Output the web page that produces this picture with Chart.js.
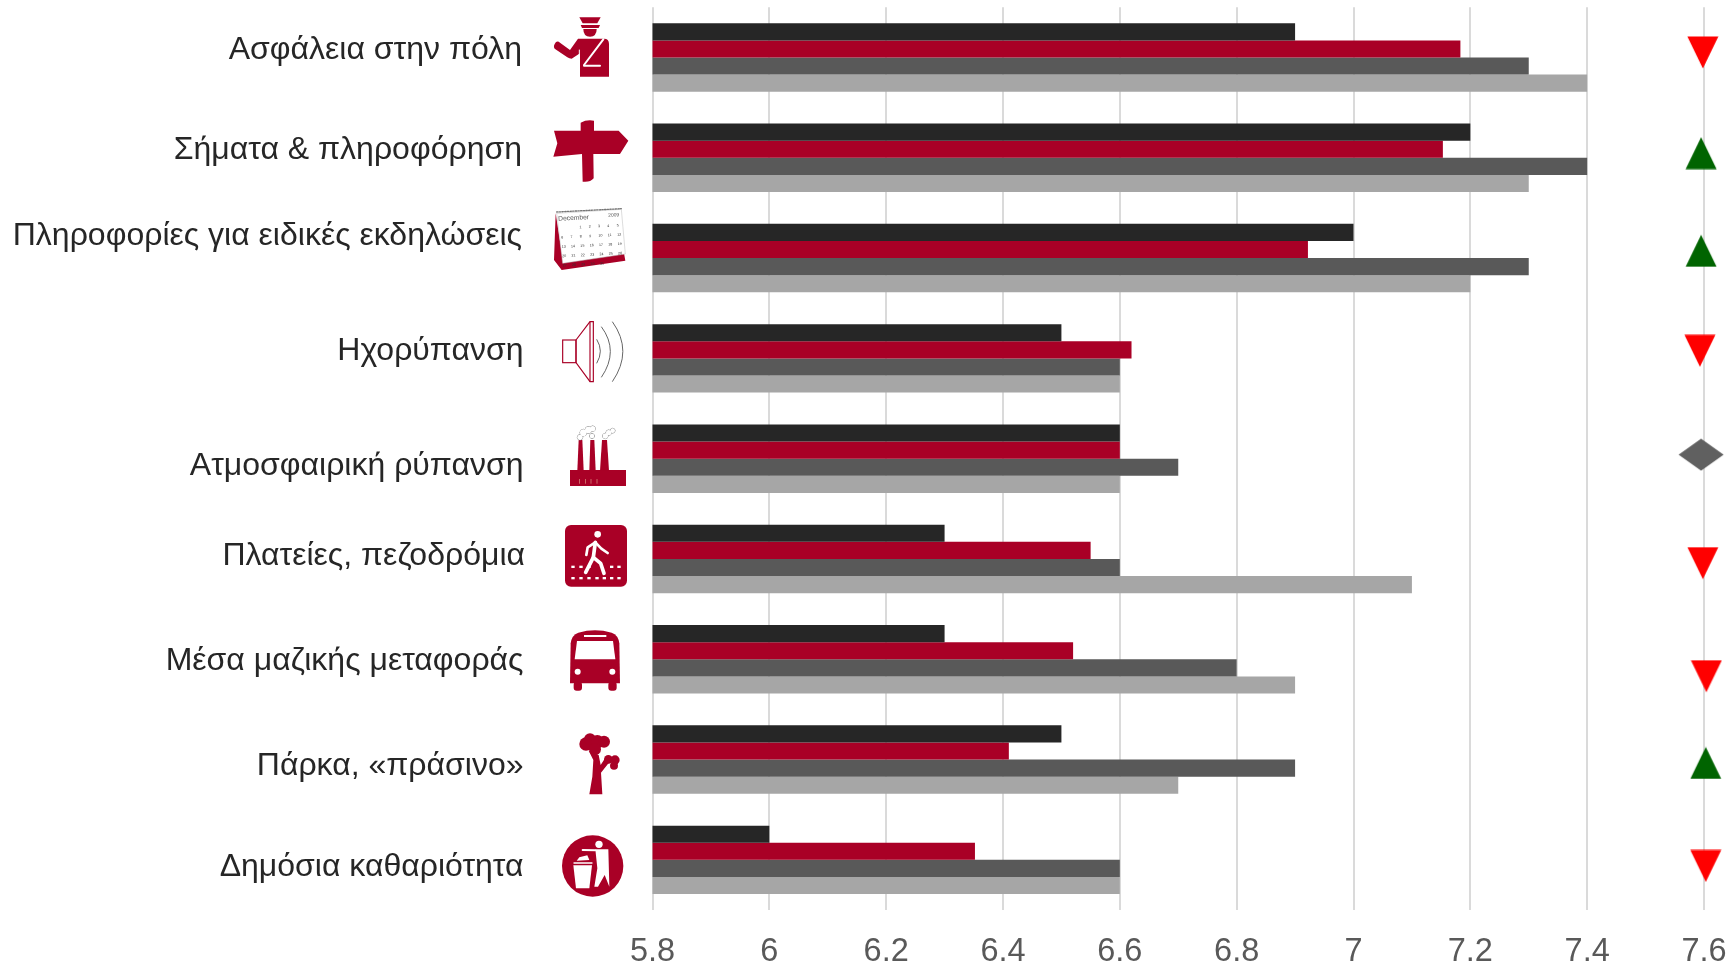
<!DOCTYPE html>
<html lang="el">
<head>
<meta charset="utf-8">
<title>Chart</title>
<style>html,body{margin:0;padding:0;background:#fff}canvas{display:block}</style>
<script src="https://cdn.jsdelivr.net/npm/chart.js@4"></script>
</head>
<body>
<canvas id="c" width="1730" height="964"></canvas>
<script>
const categories = ['Ασφάλεια στην πόλη','Σήματα & πληροφόρηση','Πληροφορίες για ειδικές εκδηλώσεις','Ηχορύπανση','Ατμοσφαιρική ρύπανση','Πλατείες, πεζοδρόμια','Μέσα μαζικής μεταφοράς','Πάρκα, «πράσινο»','Δημόσια καθαριότητα'];
const seriesBlack = [6.9,7.2,7.0,6.5,6.6,6.3,6.3,6.5,6.0];
const seriesRed   = [7.183,7.153,6.922,6.62,6.6,6.55,6.52,6.41,6.352];
const seriesDark  = [7.3,7.4,7.3,6.6,6.7,6.6,6.8,6.9,6.6];
const seriesLight = [7.4,7.3,7.2,6.6,6.6,7.1,6.9,6.7,6.6];
const xTickLabels = ['5.8','6','6.2','6.4','6.6','6.8','7','7.2','7.4','7.6'];
const trendKinds = ['down','up','up','down','same','down','down','up','down'];
const trendX = [7.598,7.595,7.595,7.593,7.595,7.598,7.604,7.603,7.603];
const trendY = [-0.05,0.954,1.927,2.924,3.96,5.042,6.169,7.034,8.061];
const labelShiftY = [-7,-8,-22,-7,7,-3,2,7,7];
const labelShiftX = [0,0,0,1.5,1.5,3,1.5,1.5,1.5];

const CRIMSON = '#A90026';

function markerCanvas(kind){
  const w = kind==='same'?46:32, h = 33;
  const m = document.createElement('canvas'); m.width=w; m.height=h;
  const g = m.getContext('2d');
  g.beginPath();
  if(kind==='down'){g.moveTo(.5,.5);g.lineTo(w-.5,.5);g.lineTo(w/2,h-.5);g.fillStyle='#FF0000';}
  else if(kind==='up'){g.moveTo(w/2,.5);g.lineTo(w-.5,h-.5);g.lineTo(.5,h-.5);g.fillStyle='#006400';}
  else {g.moveTo(.5,h/2);g.lineTo(w/2,.5);g.lineTo(w-.5,h/2);g.lineTo(w/2,h-.5);g.fillStyle='#606060';}
  g.closePath(); g.fill();
  return m;
}
const markerImages = {down:markerCanvas('down'),up:markerCanvas('up'),same:markerCanvas('same')};

function poly(c,pts,fill){c.beginPath();pts.forEach((p,i)=>i?c.lineTo(p[0],p[1]):c.moveTo(p[0],p[1]));c.closePath();if(fill){c.fillStyle=fill;c.fill();}}
function circ(c,x,y,r,fill){c.beginPath();c.arc(x,y,r,0,Math.PI*2);c.fillStyle=fill;c.fill();}
function seg(c,pts,color,w){c.beginPath();pts.forEach((p,i)=>i?c.lineTo(p[0],p[1]):c.moveTo(p[0],p[1]));c.strokeStyle=color;c.lineWidth=w;c.lineCap='round';c.lineJoin='round';c.stroke();}

function iconGuard(c){
  poly(c,[[118,52],[182,52],[172,70],[128,70]],CRIMSON);
  poly(c,[[122,75],[180,75],[176,84],[126,84]],CRIMSON);
  c.beginPath();c.moveTo(130,87);c.lineTo(170,87);c.quadraticCurveTo(170,110,150,110);c.quadraticCurveTo(130,110,130,87);c.fillStyle=CRIMSON;c.fill();
  c.beginPath();c.moveTo(114,116);c.lineTo(192,116);c.quadraticCurveTo(207,116,207,132);c.lineTo(207,230);c.lineTo(120,230);c.lineTo(120,160);c.lineTo(95,176);c.quadraticCurveTo(88,176,82,172);c.lineTo(44,146);c.quadraticCurveTo(38,138,48,126);c.quadraticCurveTo(54,122,60,128);c.lineTo(90,150);c.closePath();c.fillStyle=CRIMSON;c.fill();
  seg(c,[[190,118],[132,195]],'#fff',6);
  seg(c,[[132,197],[180,197]],'#fff',6);
  seg(c,[[118,150],[118,190]],'#fff',3);
}
function iconSign(c){
  c.beginPath();c.moveTo(42,392);c.lineTo(122,392);c.lineTo(122,368);c.quadraticCurveTo(140,358,162,362);c.lineTo(162,392);c.lineTo(236,392);c.lineTo(265,422);c.lineTo(240,462);c.lineTo(160,462);c.lineTo(161,535);c.quadraticCurveTo(150,548,128,545);c.lineTo(126,462);c.lineTo(40,470);c.lineTo(52,430);c.closePath();c.fillStyle=CRIMSON;c.fill();
}
function iconCalendar(c){
  poly(c,[[47,640],[42,780],[65,810],[256,782],[252,760],[70,788]],CRIMSON);
  poly(c,[[50,640],[244,628],[256,762],[68,790]],'#fff');
  c.strokeStyle='#bbb';c.lineWidth=1.5;c.stroke();
  c.setLineDash([4,4]);seg(c,[[50,636],[244,626]],'#777',4);c.setLineDash([]);
  c.save();c.translate(55,662);c.rotate(-0.05);c.lineCap='butt';
  c.fillStyle='#555';c.textBaseline='alphabetic';
  c.font='20px "Liberation Sans"';c.fillText('December',0,0);
  c.font='15px "Liberation Sans"';c.fillText('2009',150,-4);
  const days=[['','','1','2','3','4','5'],['6','7','8','9','10','11','12'],['13','14','15','16','17','18','19'],['20','21','22','23','24','25','26'],['27','28','29','30','31','','']];
  c.font='11px "Liberation Sans"';c.fillStyle='#333';
  days.forEach((r,i)=>r.forEach((d,j)=>{if(d)c.fillText(d,6+j*28,26+i*28);}));
  c.restore();
}
function iconSpeaker(c){
  c.strokeStyle=CRIMSON;c.lineWidth=3.5;c.lineJoin='miter';
  c.strokeRect(68,120,40,68);
  poly(c,[[108,120],[150,65],[160,65],[160,245],[150,245],[108,188]]);c.stroke();
  c.beginPath();c.moveTo(150,65);c.lineTo(150,245);c.stroke();
  c.strokeStyle='#666';c.lineWidth=3;
  c.beginPath();c.moveTo(170,118);c.quadraticCurveTo(192,153,170,190);c.stroke();
  c.beginPath();c.moveTo(184,80);c.quadraticCurveTo(238,153,184,232);c.stroke();
  c.beginPath();c.moveTo(217,65);c.quadraticCurveTo(280,153,217,245);c.stroke();
}
function iconFactory(c){
  c.fillStyle=CRIMSON;c.fillRect(90,510,168,48);
  poly(c,[[112,512],[116,420],[127,420],[131,512]],CRIMSON);
  poly(c,[[148,512],[151,420],[163,420],[167,512]],CRIMSON);
  poly(c,[[180,512],[186,420],[201,420],[207,512]],CRIMSON);
  const puffs=[[120,412,8],[130,398,10],[145,390,10],[158,386,8],[156,408,7],[196,408,8],[206,398,8],[218,392,7]];
  puffs.forEach(p=>{c.beginPath();c.arc(p[0],p[1],p[2],0,Math.PI*2);c.strokeStyle='#777';c.lineWidth=3;c.stroke();});
  puffs.forEach(p=>circ(c,p[0],p[1],p[2],'#fff'));
  c.fillStyle='#D98';[118,135,152,170].forEach(x=>c.fillRect(x,537,2,14));
}
function iconWalk(c){
  c.beginPath();c.roundRect(75,675,186,185,18);c.fillStyle=CRIMSON;c.fill();
  circ(c,173,703,10,'#fff');
  seg(c,[[166,727],[160,772],[137,817]],'#fff',11);
  seg(c,[[160,772],[182,790],[192,820]],'#fff',11);
  seg(c,[[166,727],[143,742],[139,765]],'#fff',8);
  seg(c,[[166,727],[184,746],[203,759]],'#fff',8);
  c.fillStyle='#fff';
  [94,118,142,210,232].forEach(x=>c.fillRect(x,797,10,7));
  [94,118,142,166,188,210,232].forEach(x=>c.fillRect(x,831,10,7));
}
function iconBus(c){
  c.beginPath();c.moveTo(92,70);c.quadraticCurveTo(95,45,115,38);c.quadraticCurveTo(165,24,215,38);c.quadraticCurveTo(235,45,238,70);c.lineTo(240,190);c.lineTo(90,190);c.closePath();c.fillStyle=CRIMSON;c.fill();
  c.beginPath();c.roundRect(101,185,25,27,9);c.roundRect(205,185,25,27,9);c.fill();
  poly(c,[[111,63],[219,63],[226,118],[104,118]],'#fff');
  c.fillStyle='#fff';c.fillRect(132,45,67,6);
  circ(c,113,155,9,'#fff');circ(c,217,155,9,'#fff');
}
function iconTree(c){
  poly(c,[[148,523],[157,470],[160,420],[146,392],[176,405],[182,435],[198,410],[215,418],[183,458],[187,523]],CRIMSON);
  [[138,372,20],[150,358,18],[172,365,20],[192,365,18],[165,388,18],[205,418,13],[225,420,14],[222,437,12]].forEach(p=>circ(c,p[0],p[1],p[2],CRIMSON));
}
function iconBin(c){
  circ(c,158,738,92,CRIMSON);
  circ(c,177,673,11,'#fff');
  poly(c,[[100,736],[156,736],[148,805],[108,805]],'#fff');
  seg(c,[[102,729],[156,729]],'#fff',4);
  poly(c,[[110,722],[118,712],[142,706],[148,720]],'#fff');
  seg(c,[[128,690],[166,691]],'#fff',6);
  poly(c,[[166,688],[205,688],[208,800],[194,765],[174,800],[163,800],[172,745]],'#fff');
}
const icons = [[iconGuard,0],[iconSign,0],[iconCalendar,0],[iconSpeaker,300],[iconFactory,300],[iconWalk,300],[iconBus,620],[iconTree,620],[iconBin,620]];

const iconPlugin = {id:'icons',afterDraw(chart){
  const c = chart.ctx;
  icons.forEach(([fn,oy])=>{c.save();c.translate(540,oy);c.scale(1/3,1/3);fn(c);c.restore();});
}};
const shiftPlugin = {id:'shift',afterLayout(chart){
  chart.scales.y.getLabelItems().forEach((it,i)=>{
    if(!it.__s){it.options.translation=[it.options.translation[0]+labelShiftX[i],it.options.translation[1]+labelShiftY[i]];it.__s=true;}
  });
}};
const noPad = s=>{s.paddingLeft=s.paddingRight=s.paddingTop=s.paddingBottom=0;};

const barDs = (data,color)=>({type:'bar',data,backgroundColor:color,borderWidth:0,categoryPercentage:0.6825,barPercentage:1,xAxisID:'x',yAxisID:'y'});

new Chart(document.getElementById('c'),{
  data:{labels:categories,datasets:[
    barDs(seriesBlack,'#262626'),
    barDs(seriesRed,CRIMSON),
    barDs(seriesDark,'#595959'),
    barDs(seriesLight,'#A6A6A6'),
    {type:'line',showLine:false,clip:false,parsing:false,xAxisID:'x',yAxisID:'y',
     data:trendX.map((x,i)=>({x,y:trendY[i]})),
     pointRadius:24,pointHoverRadius:24,pointStyle:trendKinds.map(k=>markerImages[k])}
  ]},
  options:{
    indexAxis:'y',responsive:false,animation:false,
    layout:{padding:{top:7.35,right:26,bottom:0,left:0},autoPadding:false},
    plugins:{legend:{display:false},tooltip:{enabled:false},title:{display:false}},
    events:[],
    scales:{
      x:{type:'linear',axis:'x',position:'bottom',min:5.8,max:7.6,
        afterFit(s){s.height=54;noPad(s);},
        border:{display:false},
        grid:{color:'#DADADA',lineWidth:2,drawTicks:false},
        afterBuildTicks(s){s.ticks=xTickLabels.map(l=>({value:+l}));},
        ticks:{autoSkip:false,maxRotation:0,padding:23,color:'#595959',font:{family:'"Liberation Sans"',size:32.5},
          callback:(v,i)=>xTickLabels[i]}},
      y:{type:'category',axis:'y',position:'left',offset:true,
        afterFit(s){s.width=652.5;noPad(s);},
        border:{display:false},
        grid:{display:false,drawTicks:false},
        ticks:{autoSkip:false,padding:130.5,color:'#262626',font:{family:'"Liberation Sans"',size:32}}}
    }
  },
  plugins:[shiftPlugin,iconPlugin]
});
</script>
</body>
</html>
